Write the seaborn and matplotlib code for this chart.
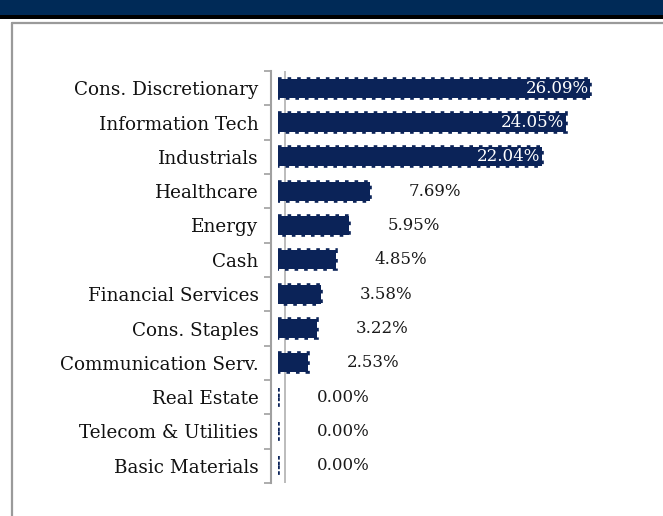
import matplotlib

matplotlib.use("Agg")
import matplotlib.pyplot as plt
import numpy as np
import pandas as pd
import seaborn as sns
from matplotlib.lines import Line2D
from matplotlib.patches import Rectangle

sectors = [
    "Cons. Discretionary",
    "Information Tech",
    "Industrials",
    "Healthcare",
    "Energy",
    "Cash",
    "Financial Services",
    "Cons. Staples",
    "Communication Serv.",
    "Real Estate",
    "Telecom & Utilities",
    "Basic Materials",
]
weights = [26.09, 24.05, 22.04, 7.69, 5.95, 4.85, 3.58, 3.22, 2.53, 0.00, 0.00, 0.00]

NAVY = "#0b2358"
W, H = 663, 516

data = pd.DataFrame({"sector": sectors, "weight": weights})

sns.set_style("white")
plt.rcParams["font.family"] = ["DejaVu Serif"]

fig = plt.figure(figsize=(W / 100, H / 100), dpi=100)

# header band and frame
fig.add_artist(Rectangle((0, 1 - 15 / H), 1, 15 / H, transform=fig.transFigure, color="#002a57", lw=0))
fig.add_artist(Rectangle((0, 1 - 19 / H), 1, 4 / H, transform=fig.transFigure, color="#000000", lw=0))
fig.add_artist(Line2D([12 / W, 12 / W], [0, 1 - 23 / H], transform=fig.transFigure, color="#9a9a9a", lw=1.6))
fig.add_artist(Line2D([12 / W, 1], [1 - 23 / H, 1 - 23 / H], transform=fig.transFigure, color="#9a9a9a", lw=1.6))

ax = fig.add_axes([278 / W, 1 - 483 / H, 359 / W, 412 / H])
sns.barplot(
    data=data, y="sector", x="weight", order=sectors, orient="h",
    color=NAVY, width=0.55, saturation=1, ax=ax,
    edgecolor=NAVY, linewidth=2.6, linestyle=":",
)
ax.set_xlim(0, 30)
ax.set_ylim(len(sectors) - 0.5, -0.5)
ax.set_xlabel("")
ax.set_ylabel("")
ax.set_xticks([])
for side in ["top", "right", "bottom"]:
    ax.spines[side].set_visible(False)
ax.spines["left"].set_position(("outward", 5))
ax.spines["left"].set_color("#a0a0a0")
ax.spines["left"].set_linewidth(1.5)
ax.axvline(0.55, color="#b0b0b0", lw=1.2, zorder=0)

ax.set_yticks(np.arange(len(sectors)))
ax.set_yticklabels(sectors, fontsize=13.2, color="#111111")
ax.tick_params(axis="y", which="major", left=False, length=0, pad=9)
ax.set_yticks(np.arange(len(sectors) + 1) - 0.5, minor=True)
ax.tick_params(axis="y", which="minor", left=True, length=5, color="#a0a0a0", width=1.2)

for i, v in enumerate(weights):
    txt = f"{v:.2f}%"
    if v > 20:
        ax.annotate(txt, (v, i), xytext=(-1, 0), textcoords="offset points",
                    ha="right", va="center", color="white", fontsize=12)
    else:
        ax.annotate(txt, (v, i), xytext=(28, 0), textcoords="offset points",
                    ha="left", va="center", color="#1a1a1a", fontsize=12)

plt.savefig("out.png", dpi=100)
plt.close()
